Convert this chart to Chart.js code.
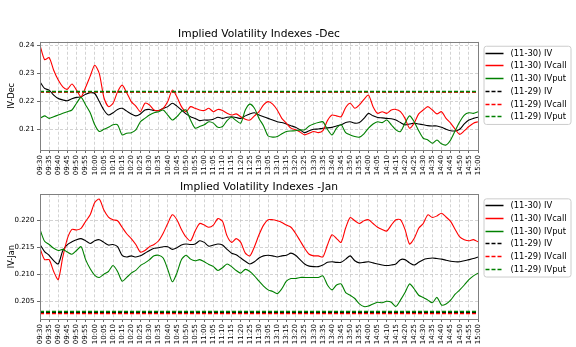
<!DOCTYPE html>
<html>
<head>
<meta charset="utf-8">
<script src="https://cdn.jsdelivr.net/npm/chart.js@4"></script>
<style>
  body { margin: 0; background: #fff; }
  canvas { position: absolute; left: 0; }
  #dec { top: 0; }
  #jan { top: 170px; }
</style>
</head>
<body>
<canvas id="dec" width="576" height="178"></canvas>
<canvas id="jan" width="576" height="177"></canvas>
<script>
// x tick labels, one per 5 minutes (lunch break skipped)
var timeLabels = [
  '09:30','09:35','09:40','09:45','09:50','09:55','10:00','10:05','10:10','10:15',
  '10:20','10:25','10:30','10:35','10:40','10:45','10:50','10:55','11:00','11:05',
  '11:10','11:15','11:20','11:25','11:30','13:05','13:10','13:15','13:20','13:25',
  '13:30','13:35','13:40','13:45','13:50','13:55','14:00','14:05','14:10','14:15',
  '14:20','14:25','14:30','14:35','14:40','14:45','14:50','14:55','15:00'
];

// series sampled every 2.5 minutes (two samples per tick)
var decIV = [
  0.2269, 0.2245, 0.2239, 0.2221, 0.2209, 0.2204, 0.2201, 0.2208, 0.2213, 0.2215, 0.2224, 0.2230,
  0.2227, 0.2198, 0.2168, 0.2150, 0.2158, 0.2170, 0.2174, 0.2164, 0.2154, 0.2147, 0.2154, 0.2168,
  0.2170, 0.2166, 0.2166, 0.2174, 0.2180, 0.2192, 0.2182, 0.2168, 0.2154, 0.2144, 0.2138, 0.2130,
  0.2132, 0.2132, 0.2135, 0.2142, 0.2138, 0.2142, 0.2144, 0.2141, 0.2138, 0.2147, 0.2154, 0.2158,
  0.2150, 0.2144, 0.2138, 0.2132, 0.2126, 0.2123, 0.2118, 0.2112, 0.2106, 0.2097, 0.2087, 0.2094,
  0.2099, 0.2100, 0.2103, 0.2104, 0.2106, 0.2111, 0.2115, 0.2123, 0.2126, 0.2121, 0.2123, 0.2138,
  0.2156, 0.2147, 0.2141, 0.2140, 0.2138, 0.2137, 0.2132, 0.2123, 0.2115, 0.2118, 0.2121, 0.2118,
  0.2115, 0.2112, 0.2111, 0.2111, 0.2106, 0.2099, 0.2094, 0.2093, 0.2099, 0.2118, 0.2132, 0.2138, 0.2142
];
var decCall = [
  0.2400, 0.2348, 0.2355, 0.2310, 0.2275, 0.2251, 0.2242, 0.2261, 0.2239, 0.2215, 0.2249, 0.2289,
  0.2328, 0.2298, 0.2213, 0.2180, 0.2192, 0.2233, 0.2257, 0.2230, 0.2198, 0.2182, 0.2162, 0.2192,
  0.2186, 0.2168, 0.2166, 0.2174, 0.2198, 0.2239, 0.2215, 0.2180, 0.2162, 0.2180, 0.2174, 0.2168,
  0.2166, 0.2174, 0.2162, 0.2170, 0.2166, 0.2156, 0.2150, 0.2154, 0.2144, 0.2135, 0.2132, 0.2147,
  0.2162, 0.2186, 0.2198, 0.2189, 0.2168, 0.2138, 0.2121, 0.2103, 0.2097, 0.2089, 0.2079, 0.2085,
  0.2091, 0.2087, 0.2094, 0.2130, 0.2150, 0.2147, 0.2144, 0.2177, 0.2192, 0.2174, 0.2186, 0.2206,
  0.2221, 0.2180, 0.2156, 0.2162, 0.2156, 0.2168, 0.2170, 0.2162, 0.2138, 0.2103, 0.2121, 0.2154,
  0.2168, 0.2180, 0.2168, 0.2154, 0.2162, 0.2138, 0.2121, 0.2099, 0.2081, 0.2094, 0.2109, 0.2121, 0.2126
];
var decPut = [
  0.2138, 0.2147, 0.2138, 0.2144, 0.2150, 0.2156, 0.2162, 0.2168, 0.2192, 0.2213, 0.2186, 0.2158,
  0.2115, 0.2091, 0.2099, 0.2106, 0.2115, 0.2115, 0.2079, 0.2085, 0.2087, 0.2097, 0.2126, 0.2138,
  0.2150, 0.2158, 0.2162, 0.2168, 0.2150, 0.2132, 0.2144, 0.2162, 0.2168, 0.2132, 0.2103, 0.2109,
  0.2115, 0.2126, 0.2121, 0.2106, 0.2109, 0.2130, 0.2142, 0.2130, 0.2121, 0.2168, 0.2189, 0.2174,
  0.2138, 0.2111, 0.2075, 0.2071, 0.2073, 0.2083, 0.2091, 0.2093, 0.2094, 0.2097, 0.2097, 0.2111,
  0.2118, 0.2123, 0.2126, 0.2099, 0.2079, 0.2103, 0.2115, 0.2087, 0.2079, 0.2073, 0.2071, 0.2083,
  0.2103, 0.2118, 0.2126, 0.2123, 0.2132, 0.2115, 0.2097, 0.2091, 0.2121, 0.2147, 0.2126, 0.2094,
  0.2067, 0.2061, 0.2049, 0.2061, 0.2047, 0.2043, 0.2061, 0.2094, 0.2126, 0.2150, 0.2158, 0.2156, 0.2162
];
var janIV = [
  0.2155, 0.2142, 0.2135, 0.2125, 0.2119, 0.2144, 0.2155, 0.2160, 0.2164, 0.2166, 0.2162, 0.2157,
  0.2162, 0.2164, 0.2159, 0.2154, 0.2155, 0.2151, 0.2135, 0.2132, 0.2134, 0.2132, 0.2134, 0.2139,
  0.2144, 0.2148, 0.2149, 0.2151, 0.2151, 0.2146, 0.2149, 0.2154, 0.2156, 0.2155, 0.2156, 0.2162,
  0.2159, 0.2152, 0.2154, 0.2156, 0.2154, 0.2146, 0.2139, 0.2136, 0.2130, 0.2124, 0.2119, 0.2123,
  0.2130, 0.2134, 0.2135, 0.2134, 0.2132, 0.2134, 0.2135, 0.2139, 0.2135, 0.2127, 0.2119, 0.2115,
  0.2114, 0.2114, 0.2117, 0.2122, 0.2123, 0.2122, 0.2122, 0.2128, 0.2134, 0.2125, 0.2121, 0.2122,
  0.2123, 0.2121, 0.2119, 0.2117, 0.2116, 0.2117, 0.2119, 0.2127, 0.2127, 0.2121, 0.2117, 0.2122,
  0.2127, 0.2129, 0.2130, 0.2129, 0.2128, 0.2126, 0.2124, 0.2123, 0.2123, 0.2125, 0.2127, 0.2129, 0.2132
];
var janCall = [
  0.2148, 0.2127, 0.2127, 0.2105, 0.2090, 0.2132, 0.2166, 0.2183, 0.2182, 0.2185, 0.2198, 0.2210,
  0.2233, 0.2239, 0.2219, 0.2206, 0.2201, 0.2199, 0.2187, 0.2175, 0.2166, 0.2155, 0.2141, 0.2144,
  0.2151, 0.2155, 0.2162, 0.2176, 0.2194, 0.2210, 0.2201, 0.2183, 0.2169, 0.2162, 0.2180, 0.2194,
  0.2191, 0.2187, 0.2191, 0.2203, 0.2198, 0.2171, 0.2159, 0.2166, 0.2159, 0.2139, 0.2134, 0.2151,
  0.2173, 0.2191, 0.2201, 0.2201, 0.2199, 0.2196, 0.2191, 0.2187, 0.2176, 0.2162, 0.2148, 0.2137,
  0.2134, 0.2134, 0.2132, 0.2154, 0.2173, 0.2166, 0.2159, 0.2186, 0.2205, 0.2199, 0.2194, 0.2199,
  0.2201, 0.2194, 0.2187, 0.2183, 0.2180, 0.2191, 0.2201, 0.2201, 0.2183, 0.2156, 0.2166, 0.2185,
  0.2194, 0.2210, 0.2205, 0.2208, 0.2213, 0.2206, 0.2198, 0.2183, 0.2169, 0.2164, 0.2162, 0.2164, 0.2160
];
var janPut = [
  0.2183, 0.2161, 0.2155, 0.2148, 0.2144, 0.2146, 0.2141, 0.2137, 0.2144, 0.2151, 0.2127, 0.2110,
  0.2098, 0.2094, 0.2100, 0.2105, 0.2116, 0.2105, 0.2087, 0.2094, 0.2102, 0.2107, 0.2116, 0.2121,
  0.2127, 0.2134, 0.2135, 0.2130, 0.2109, 0.2086, 0.2102, 0.2127, 0.2135, 0.2128, 0.2125, 0.2127,
  0.2123, 0.2118, 0.2114, 0.2107, 0.2112, 0.2119, 0.2114, 0.2107, 0.2102, 0.2109, 0.2105, 0.2097,
  0.2087, 0.2078, 0.2071, 0.2068, 0.2064, 0.2073, 0.2087, 0.2092, 0.2092, 0.2094, 0.2094, 0.2094,
  0.2094, 0.2094, 0.2097, 0.2080, 0.2071, 0.2080, 0.2082, 0.2066, 0.2061, 0.2055, 0.2045, 0.2040,
  0.2041, 0.2045, 0.2048, 0.2047, 0.2050, 0.2048, 0.2040, 0.2052, 0.2066, 0.2082, 0.2073, 0.2061,
  0.2057, 0.2052, 0.2047, 0.2057, 0.2043, 0.2045, 0.2052, 0.2063, 0.2071, 0.2080, 0.2090, 0.2097, 0.2102
];

// previous day (11-29) closing levels: IV, IVcall, IVput
var decPrev = [0.2233, 0.2232, 0.2234];
var janPrev = [0.2029, 0.2027, 0.2031];

var seriesNames = ['(11-30) IV', '(11-30) IVcall', '(11-30) IVput', '(11-29) IV', '(11-29) IVcall', '(11-29) IVput'];
var seriesColors = ['#000000', '#ff0000', '#008000'];

var FONT = 'DejaVu Sans';

function toPoints(values) {
  return values.map(function(v, i) { return { x: i / 2, y: v }; });
}

function flatLine(v) {
  return [{ x: 0, y: v }, { x: timeLabels.length - 1, y: v }];
}

// box round the plot area, like a matplotlib frame
var frame = {
  id: 'frame',
  afterDatasetsDraw: function(chart) {
    var a = chart.chartArea, ctx = chart.ctx;
    ctx.save();
    ctx.strokeStyle = '#808080';
    ctx.lineWidth = 1;
    ctx.strokeRect(Math.round(a.left) + 0.5, Math.round(a.top) + 0.5,
      Math.round(a.right - a.left), Math.round(a.bottom - a.top));
    ctx.restore();
  }
};

// legend in a rounded box to the right of the plot
var sideLegend = {
  id: 'sideLegend',
  afterDraw: function(chart) {
    var a = chart.chartArea, ctx = chart.ctx;
    var x0 = a.right + 5.5, y0 = a.top + 4, rowH = 12.7;
    var w = 87, h = rowH * 6 + 2;
    ctx.save();
    ctx.beginPath();
    ctx.roundRect(x0 + 0.5, y0 + 0.5, w, h, 2.5);
    ctx.fillStyle = 'rgba(255,255,255,0.8)';
    ctx.fill();
    ctx.strokeStyle = '#cccccc';
    ctx.lineWidth = 1;
    ctx.stroke();
    ctx.font = '8.4px "' + FONT + '"';
    ctx.textBaseline = 'middle';
    chart.data.datasets.forEach(function(ds, i) {
      var y = Math.round(y0 + 7 + i * rowH) + 0.5;
      ctx.beginPath();
      ctx.setLineDash(ds.borderDash || []);
      ctx.strokeStyle = ds.borderColor;
      ctx.lineWidth = 1.5;
      ctx.moveTo(x0 + 2, y);
      ctx.lineTo(x0 + 20, y);
      ctx.stroke();
      ctx.setLineDash([]);
      ctx.fillStyle = '#000';
      ctx.fillText(ds.label, x0 + 27, y);
    });
    ctx.restore();
  }
};

function makeChart(id, title, yTitle, cur, prev, yMin, yMax, yStep, digits, titlePad) {
  var datasets = [];
  cur.forEach(function(values, i) {
    datasets.push({
      label: seriesNames[i],
      data: toPoints(values),
      borderColor: seriesColors[i],
      borderWidth: 1.1,
      pointRadius: 0,
      tension: 0.25,
      fill: false
    });
  });
  prev.forEach(function(v, i) {
    datasets.push({
      label: seriesNames[i + 3],
      data: flatLine(v),
      borderColor: seriesColors[i],
      borderWidth: 1.4,
      borderDash: [4, 2],
      pointRadius: 0,
      fill: false
    });
  });
  // later series on top
  datasets.forEach(function(ds, i) { ds.order = datasets.length - i; });

  var tickFont = { family: FONT, size: 7 };
  var gridOpts = { color: '#c8c8c8', lineWidth: 0.8, tickLength: 3, tickColor: '#444', tickWidth: 0.8 };

  return new Chart(document.getElementById(id), {
    type: 'line',
    data: { datasets: datasets },
    plugins: [frame, sideLegend],
    options: {
      responsive: false,
      animation: false,
      layout: { padding: { left: 0, right: 98, top: 0, bottom: 0 } },
      plugins: {
        legend: { display: false },
        tooltip: { enabled: false },
        title: {
          display: true,
          text: title,
          fullSize: false,
          color: '#000',
          font: { family: FONT, size: 10.7, weight: 'normal' },
          padding: titlePad
        }
      },
      scales: {
        x: {
          type: 'linear',
          min: 0,
          max: timeLabels.length - 1,
          afterFit: function(s) { s.height = 28; },
          grid: gridOpts,
          border: { display: false, dash: [3, 2] },
          ticks: {
            stepSize: 1,
            autoSkip: false,
            minRotation: 90,
            maxRotation: 90,
            padding: 2,
            color: '#000',
            font: tickFont,
            callback: function(v) { return timeLabels[v]; }
          }
        },
        y: {
          min: yMin,
          max: yMax,
          afterFit: function(s) { s.width = 40; },
          grid: gridOpts,
          border: { display: false, dash: [3, 2] },
          title: {
            display: true,
            text: yTitle,
            color: '#000',
            font: { family: FONT, size: 8 },
            padding: { top: 7, bottom: 0 }
          },
          ticks: {
            stepSize: yStep,
            includeBounds: false,
            padding: 2.5,
            color: '#000',
            font: tickFont,
            callback: function(v) { return v.toFixed(digits); }
          }
        }
      }
    }
  });
}

makeChart('dec', 'Implied Volatility Indexes -Dec', 'IV-Dec',
  [decIV, decCall, decPut], decPrev, 0.2025, 0.2412, 0.01, 2, { top: 27.6, bottom: 1.3 });
makeChart('jan', 'Implied Volatility Indexes -Jan', 'IV-Jan',
  [janIV, janCall, janPut], janPrev, 0.2017, 0.2248, 0.005, 3, { top: 10.6, bottom: 0.9 });
</script>
</body>
</html>
